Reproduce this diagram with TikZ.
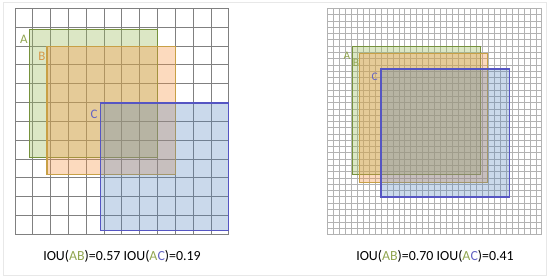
\documentclass[tikz,border=0pt]{standalone}
\usepackage{fontspec}
\setmainfont{Carlito}
\usepackage{tikz}
\usetikzlibrary{positioning}
\definecolor{boxgreen}{RGB}{118,146,60}
\definecolor{fillgreen}{RGB}{155,187,89}
\definecolor{boxorange}{RGB}{200,160,70}
\definecolor{fillorange}{RGB}{247,150,70}
\definecolor{boxblue}{RGB}{85,85,195}
\definecolor{fillblue}{RGB}{79,129,189}
\definecolor{txtgreen}{RGB}{145,165,80}
\definecolor{txtorange}{RGB}{215,150,70}
\definecolor{txtblue}{RGB}{100,100,195}
\definecolor{gridgray}{RGB}{128,128,128}
\definecolor{finegray}{RGB}{178,178,178}

\begin{document}
\begin{tikzpicture}[
  x=1pt, y=1pt,
  coarse/.style={draw=gridgray, line width=0.8pt},
  fine/.style={draw=finegray, line width=0.45pt},
  boxA/.style={draw=boxgreen, fill=fillgreen, fill opacity=0.35, line width=1.5pt},
  boxB/.style={draw=boxorange, fill=fillorange, fill opacity=0.35, line width=1.5pt},
  boxC/.style={draw=boxblue, fill=fillblue, fill opacity=0.30, line width=1.2pt},
  lab/.style={inner sep=0pt, font=\fontsize{13}{15}\selectfont},
  labsmall/.style={inner sep=0pt, font=\fontsize{11.5}{13}\selectfont},
  iou/.style={inner sep=0pt, font=\fontsize{13.9}{16}\selectfont}
]
\useasboundingbox (0,0) rectangle (550,279);
\draw[draw=gray!18, line width=0.6pt] (3,4) rectangle (546,277);

\draw[coarse, xstep=17.81, ystep=18.83, shift={(15,44.7)}] (0,0) grid (213.8,226.1);
\draw[fine, xstep=5.9556, ystep=6.2778, shift={(327.3,44.7)}] (0,0) grid (214.5,226.1);

\draw[boxA] (29.3,121.3) rectangle (157.3,249.7);
\draw[boxB] (47,104.3) rectangle (175.3,232.3);
\draw[boxC] (100.3,48.3) rectangle (228.7,176);

\draw[boxA] (352.3,104.7) rectangle (480.7,232.7);
\draw[boxB] (359.3,96.7) rectangle (487.7,225.7);
\draw[boxC] (381,82) rectangle (509.3,210);

\node[lab, text=txtgreen] (labAL) at (24,240) {A};
\node[lab, text=txtorange] (labBL) at (42,223) {B};
\node[lab, text=txtblue] (labCL) at (94,165) {C};
\node[labsmall, text=txtgreen] (labAR) at (347,223) {A};
\node[labsmall, text=txtgreen] (labBR) at (356,216) {B};
\node[labsmall, text=txtblue] (labCR) at (374.7,202.3) {C};

\node[iou] (iouL) at (122,23) {IOU(\textcolor{txtgreen}{AB})=0.57 IOU(\textcolor{txtgreen}{A}\textcolor{txtblue}{C})=0.19};
\node[iou] (iouR) at (435,23) {IOU(\textcolor{txtgreen}{AB})=0.70 IOU(\textcolor{txtgreen}{A}\textcolor{txtblue}{C})=0.41};
\end{tikzpicture}
\end{document}
